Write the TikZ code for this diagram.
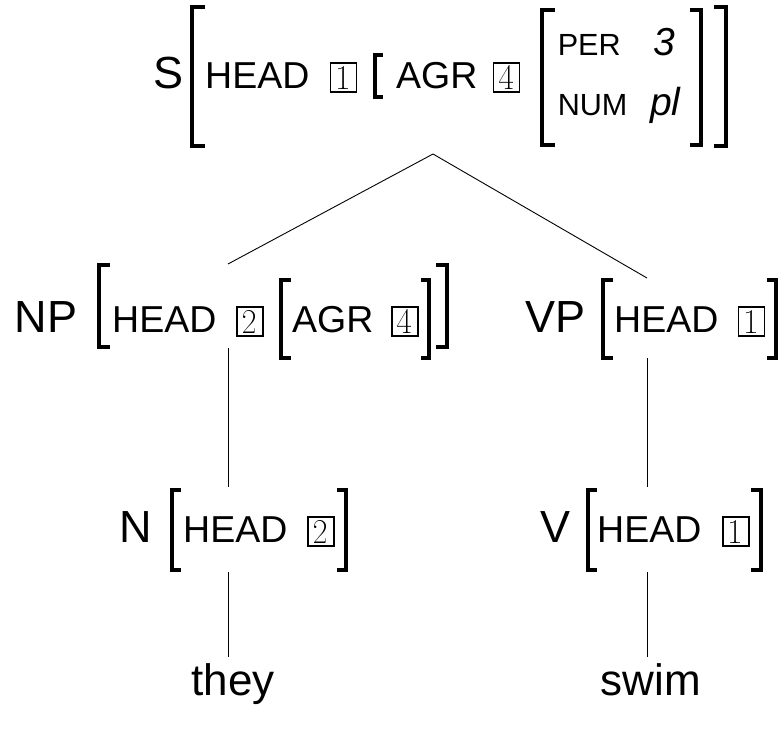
\documentclass[tikz,border=0pt]{standalone}
\usepackage{fontspec}
\setmainfont{Liberation Sans}
\newfontfamily\catfam{Liberation Sans}
\newfontfamily\valfam{Liberation Sans Italic}
\newcommand\catfont{\catfam\fontsize{45}{54}\selectfont}
\newcommand\featfont{\catfam\fontsize{37.5}{45}\selectfont}
\newcommand\subfeatfont{\catfam\fontsize{30.6}{36}\selectfont}
\newcommand\valfont{\valfam\fontsize{39}{46}\selectfont}
\newcommand\tagfont{\fontencoding{T1}\fontfamily{lmr}\fontsize{34}{40}\selectfont}
\newcommand\leaffont{\catfam\fontsize{44}{52}\selectfont}

\tikzset{
  cat/.style={font=\catfont, inner sep=0pt, anchor=base west},
  feat/.style={font=\featfont, inner sep=0pt, anchor=base west},
  subfeat/.style={font=\subfeatfont, inner sep=0pt, anchor=base west},
  val/.style={font=\valfont, inner sep=0pt, anchor=base west},
  leaf/.style={font=\leaffont, inner sep=0pt, anchor=base},
  tag/.style={draw, line width=1.8pt, font=\tagfont, inner sep=0pt,
    minimum width=26pt, minimum height=29pt},
  brk/.style={line width=3.3pt},
  branch/.style={line width=0.9pt},
}
% bracket: vertical stroke x, serif end x, top y, bottom y
\newcommand\lbrk[4]{\draw[brk] (#2,#3) -- (#1,#3) -- (#1,#4) -- (#2,#4);}
\newcommand\rbrk[4]{\draw[brk] (#2,#3) -- (#1,#3) -- (#1,#4) -- (#2,#4);}

\begin{document}
\begin{tikzpicture}[x=1pt,y=-1pt]
\useasboundingbox (0,0) rectangle (783,736);

% ---- S ----
\node[cat] (S) at (153,88) {S};
\lbrk{192}{205}{7}{146}
\node[feat] (S-head) at (205,88) {HEAD};
\node[tag] (S-t1) at (343.5,77.5) {1};
\lbrk{375}{383}{55}{97}
\node[feat] (S-agr) at (396,88) {AGR};
\node[tag] (S-t4) at (506.5,77.5) {4};
\lbrk{542}{555}{10}{145}
\node[subfeat] (S-per) at (557.6,55) {PER};
\node[val] (S-3) at (653,55) {3};
\node[subfeat] (S-num) at (557.6,115) {NUM};
\node[val] (S-pl) at (650,115) {pl};
\rbrk{701}{690}{10}{145}
\rbrk{726}{714}{7}{146}

% ---- NP ----
\node[cat] (NP) at (14.6,332) {NP};
\lbrk{99}{110}{265}{347}
\node[feat] (NP-head) at (112,332) {HEAD};
\node[tag] (NP-t2) at (250,321.5) {2};
\lbrk{281}{291}{280}{358}
\node[feat] (NP-agr) at (292,332) {AGR};
\node[tag] (NP-t4) at (405,321.5) {4};
\rbrk{429}{421}{280}{358}
\rbrk{447}{436}{265}{347}

% ---- VP ----
\node[cat] (VP) at (525,332) {VP};
\lbrk{603}{613}{280}{358}
\node[feat] (VP-head) at (614,332) {HEAD};
\node[tag] (VP-t1) at (751.5,321.5) {1};
\rbrk{776}{767}{280}{358}

% ---- N ----
\node[cat] (N) at (119.6,542) {N};
\lbrk{172}{181}{490}{570}
\node[feat] (N-head) at (183,542) {HEAD};
\node[tag] (N-t2) at (321,531.5) {2};
\rbrk{346}{337}{490}{570}

% ---- V ----
\node[cat] (V) at (540,542) {V};
\lbrk{588}{597}{490}{570}
\node[feat] (V-head) at (597,542) {HEAD};
\node[tag] (V-t1) at (736,531.5) {1};
\rbrk{761}{751}{490}{570}

% ---- leaves ----
\node[leaf] (they) at (233,695) {they};
\node[leaf] (swim) at (651,695) {swim};

% ---- branch attachment points ----
\coordinate (S-foot) at (433,154);
\coordinate (NP-top) at (228,264);
\coordinate (VP-top) at (647,278);
\coordinate (NP-foot) at (228,348);
\coordinate (VP-foot) at (647,358);
\coordinate (N-top) at (228,487);
\coordinate (V-top) at (647,487);
\coordinate (N-foot) at (228,572);
\coordinate (V-foot) at (647,572);
\coordinate (they-top) at (228,657);
\coordinate (swim-top) at (647,657);

\draw[branch] (S-foot) -- (NP-top);
\draw[branch] (S-foot) -- (VP-top);
\draw[branch] (NP-foot) -- (N-top);
\draw[branch] (VP-foot) -- (V-top);
\draw[branch] (N-foot) -- (they-top);
\draw[branch] (V-foot) -- (swim-top);
\end{tikzpicture}
\end{document}
